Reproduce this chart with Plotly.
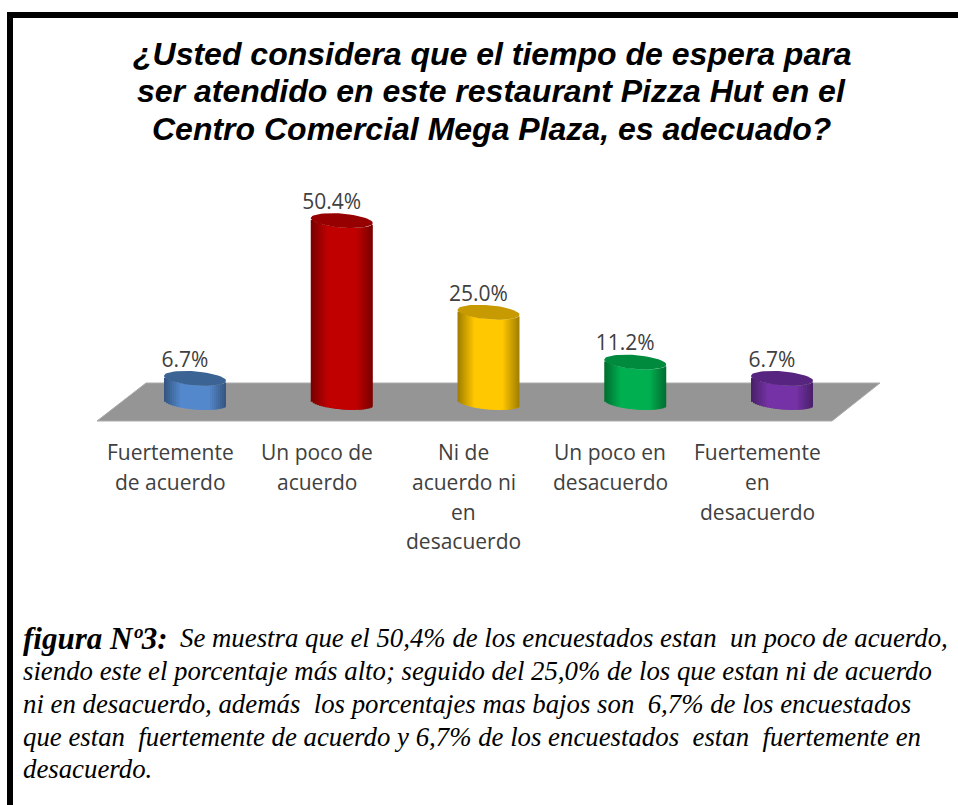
import math
import plotly.graph_objects as go

categories = ["Fuertemente de acuerdo", "Un poco de acuerdo", "Ni de acuerdo ni en desacuerdo",
              "Un poco en desacuerdo", "Fuertemente en desacuerdo"]
category_lines = [["Fuertemente", "de acuerdo"], ["Un poco de", "acuerdo"],
                  ["Ni de", "acuerdo ni", "en", "desacuerdo"], ["Un poco en", "desacuerdo"],
                  ["Fuertemente", "en", "desacuerdo"]]
values = [6.7, 50.4, 25.0, 11.2, 6.7]
labels = ["6.7%", "50.4%", "25.0%", "11.2%", "6.7%"]
title_lines = ["¿Usted considera que el tiempo de espera para",
               "ser atendido en este restaurant Pizza Hut en el",
               "Centro Comercial Mega Plaza, es adecuado?"]
caption_lead = "figura Nº3:"
caption_lines = ["Se muestra que el 50,4% de los encuestados estan\u00a0 un poco de acuerdo,",
                 "siendo este el porcentaje más alto; seguido del 25,0% de los que estan ni de acuerdo",
                 "ni en desacuerdo, además\u00a0 los porcentajes mas bajos son\u00a0 6,7% de los encuestados",
                 "que estan\u00a0 fuertemente de acuerdo y 6,7% de los encuestados\u00a0 estan\u00a0 fuertemente en",
                 "desacuerdo."]

colors = [(84, 136, 204), (192, 0, 0), (255, 200, 0), (0, 176, 80), (116, 50, 166)]
cap_colors = ["#3B6495", "#960000", "#C69A00", "#008A3E", "#572580"]

W, H = 958, 805
X0, DX = 195.0, 146.75     # pixel of first category, pixels per category
Y0, DY = 402.5, 3.61       # pixel of value 0, pixels per unit
R = 31 / DX                # cylinder half width, category units
TILT, MINOR = 2.5 / DY, 7.0 / DY
xs = list(range(len(categories)))

def shade(rgb, f):
    return "rgb(%d,%d,%d)" % tuple(min(255, round(c * f)) for c in rgb)

def light(u):
    return 0.62 + 0.38 * min(1.0, (1 - abs(u)) / 0.55)

fig = go.Figure()

# cylinder bodies: real bars cut into narrow vertical strips for the shading
N = 31
for k in range(N):
    u = -1 + (2 * k + 1) / N
    offset_low = -TILT * u - MINOR * math.sqrt(max(0, 1 - u * u))
    extra = 0 if k == N - 1 else 1.5 / DX
    fig.add_trace(go.Bar(
        x=xs, y=values, base=offset_low,
        width=2 * R / N + extra, offset=R * (u - 1 / N),
        marker=dict(color=[shade(c, light(u)) for c in colors], line=dict(width=0)),
        hoverinfo="skip", showlegend=False))

# top caps
ts = [2 * math.pi * i / 60 for i in range(61)]
for x, v, c in zip(xs, values, cap_colors):
    fig.add_trace(go.Scatter(
        x=[x + R * math.cos(t) for t in ts],
        y=[v - TILT * math.cos(t) + MINOR * math.sin(t) for t in ts],
        mode="lines", fill="toself", fillcolor=c, line=dict(width=0, color=c),
        hoverinfo="skip", showlegend=False))

# data labels
fig.add_trace(go.Scatter(
    x=[x - 10 / DX for x in xs], y=[v + 4.7 for v in values],
    mode="text", text=labels, textposition="middle center",
    textfont=dict(family="Open Sans", size=21, color="#404040"),
    hoverinfo="skip", showlegend=False))

def px_x(p): return (p - X0) / DX
def px_y(p): return (Y0 - p) / DY

floor = "M %f %f L %f %f L %f %f L %f %f Z" % (
    px_x(146), px_y(383), px_x(880), px_y(383), px_x(832), px_y(421), px_x(97), px_y(421))

shapes = [
    dict(type="path", path=floor, xref="x", yref="y", layer="below",
         fillcolor="#959595", line=dict(color="#ABABAB", width=1)),
    dict(type="rect", xref="paper", yref="paper", x0=7 / W, x1=1.01, y0=1 - 18 / H, y1=1 - 12 / H,
         fillcolor="black", line_width=0),
    dict(type="rect", xref="paper", yref="paper", x0=7 / W, x1=13 / W, y0=-0.01, y1=1 - 12 / H,
         fillcolor="black", line_width=0),
]

annotations = []
# title, one annotation per line for the original line pitch
for line, py in zip(title_lines, [54, 91, 129]):
    annotations.append(dict(
        x=491.5 / W, y=1 - py / H, xref="paper", yref="paper", text="<b><i>" + line + "</i></b>",
        showarrow=False, xanchor="center", yanchor="middle",
        font=dict(family="Liberation Sans", size=32, color="black")))

# category labels, one annotation per line for the original line pitch
for x, lines in zip(xs, category_lines):
    for j, line in enumerate(lines):
        annotations.append(dict(
            x=x - 25 / DX, y=px_y(452 + 29.8 * j), xref="x", yref="y", text=line, showarrow=False,
            xanchor="center", yanchor="middle",
            font=dict(family="Open Sans", size=21, color="#404040")))

# caption
cap_y = [638, 671, 704, 737, 769]
annotations.append(dict(
    x=21 / W, y=1 - cap_y[0] / H, xref="paper", yref="paper", text="<b><i>" + caption_lead + "</i></b>",
    showarrow=False, xanchor="left", yanchor="middle",
    font=dict(family="Liberation Serif", size=31, color="black")))
for j, line in enumerate(caption_lines):
    annotations.append(dict(
        x=(178 if j == 0 else 21) / W, y=1 - cap_y[j] / H, xref="paper", yref="paper",
        text="<i>" + line + "</i>", showarrow=False, xanchor="left", yanchor="middle",
        font=dict(family="Liberation Serif", size=26.8, color="black")))

fig.update_layout(
    width=W, height=H, margin=dict(l=0, r=0, t=0, b=0),
    paper_bgcolor="white", plot_bgcolor="white", barmode="overlay", showlegend=False,
    xaxis=dict(range=[(0 - X0) / DX, (W - X0) / DX], visible=False, fixedrange=True),
    yaxis=dict(range=[(Y0 - H) / DY, Y0 / DY], visible=False, fixedrange=True),
    shapes=shapes, annotations=annotations)

fig.write_html("out.html", config={"displayModeBar": False},
               post_script="document.body.style.margin='0';document.body.style.overflow='hidden';")
